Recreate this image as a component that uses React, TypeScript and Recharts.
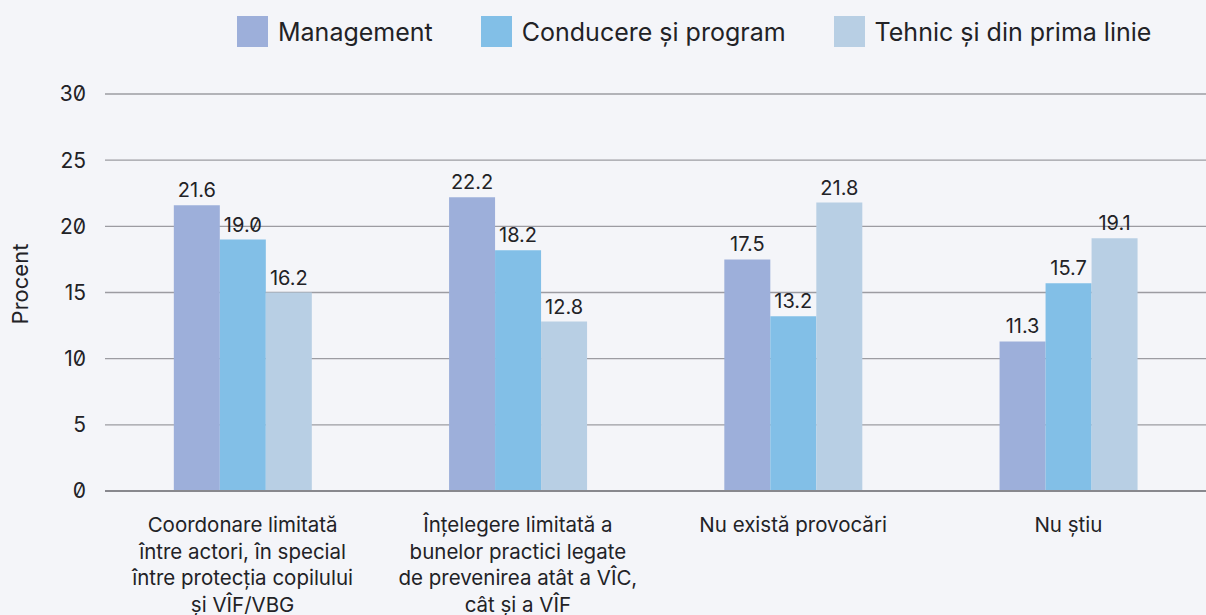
import * as React from "react";
import { Bar, BarChart, CartesianGrid, LabelList, XAxis, YAxis } from "recharts";

const categories = [
  "Coordonare limitată\nîntre actori, în special\nîntre protecția copilului\nși VÎF/VBG",
  "Înțelegere limitată a\nbunelor practici legate\nde prevenirea atât a VÎC,\ncât și a VÎF",
  "Nu există provocări",
  "Nu știu",
];

// bar heights as drawn
const management = [21.6, 22.2, 17.5, 11.3];
const conducere = [19.0, 18.2, 13.2, 15.7];
const tehnic = [15.0, 12.8, 21.8, 19.1];

// printed labels (first "Tehnic" bar is drawn at 15 but labelled 16.2)
const managementLabels = ["21.6", "22.2", "17.5", "11.3"];
const conducereLabels = ["19.0", "18.2", "13.2", "15.7"];
const tehnicLabels = ["16.2", "12.8", "21.8", "19.1"];

const yTicks = [0, 5, 10, 15, 20, 25, 30];

const series = [
  { key: "m", label: "mL", name: "Management", color: "#9DAFDA" },
  { key: "c", label: "cL", name: "Conducere și program", color: "#82BFE7" },
  { key: "t", label: "tL", name: "Tehnic și din prima linie", color: "#B8CFE4" },
];

const data = categories.map((name, i) => ({
  name,
  m: management[i],
  c: conducere[i],
  t: tehnic[i],
  mL: managementLabels[i],
  cL: conducereLabels[i],
  tL: tehnicLabels[i],
}));

const textColor = "#222226";

function CategoryTick(props: any) {
  const { x, y, payload } = props;
  const lines = String(payload.value).split("\n");
  return (
    <text x={x} y={y} textAnchor="middle" fill={textColor} fontSize={20.5}>
      {lines.map((l, i) => (
        <tspan key={i} x={x} dy={i === 0 ? 41 : 26.7}>
          {l}
        </tspan>
      ))}
    </text>
  );
}

function YTitle() {
  return (
    <text x={20} y={284} transform="rotate(-90, 20, 284)" textAnchor="middle" dominantBaseline="central" fill={textColor} fontSize={22}>
      Procent
    </text>
  );
}

export default function App() {
  return (
    <div
      style={{
        position: "fixed",
        left: 0,
        top: 0,
        width: 1206,
        height: 615,
        background: "#F4F5F9",
        fontFamily: "Inter, 'Noto Sans', sans-serif",
        fontFeatureSettings: '"zero" 1',
      }}
    >
      <div style={{ position: "absolute", left: 237, top: 16, display: "flex", alignItems: "center", gap: 48 }}>
        {series.map((s) => (
          <div key={s.key} style={{ display: "flex", alignItems: "center" }}>
            <div style={{ width: 31, height: 31, background: s.color, marginRight: 10 }} />
            <span style={{ fontSize: 25, color: textColor }}>{s.name}</span>
          </div>
        ))}
      </div>
      <BarChart
        width={1206}
        height={615}
        data={data}
        margin={{ top: 94, right: 0, left: 0, bottom: 0 }}
        barCategoryGap="25%"
        barGap={0}
        style={{ position: "absolute", left: 0, top: 0 }}
      >
        <CartesianGrid vertical={false} stroke="#9C9CA2" strokeWidth={1.3} />
        <XAxis
          dataKey="name"
          height={124}
          interval={0}
          tickLine={false}
          tickSize={0}
          tickMargin={0}
          axisLine={{ stroke: "#88888E", strokeWidth: 2 }}
          tick={<CategoryTick />}
        />
        <YAxis
          width={105}
          domain={[0, 30]}
          ticks={yTicks}
          tickLine={false}
          axisLine={false}
          tickSize={0}
          tickMargin={19}
          tick={{ fill: textColor, fontSize: 21 }}
          label={<YTitle />}
        />
        {series.map((s) => (
          <Bar key={s.key} dataKey={s.key} name={s.name} fill={s.color} isAnimationActive={false}>
            <LabelList dataKey={s.label} position="top" offset={8} fill={textColor} fontSize={20} />
          </Bar>
        ))}
      </BarChart>
    </div>
  );
}
